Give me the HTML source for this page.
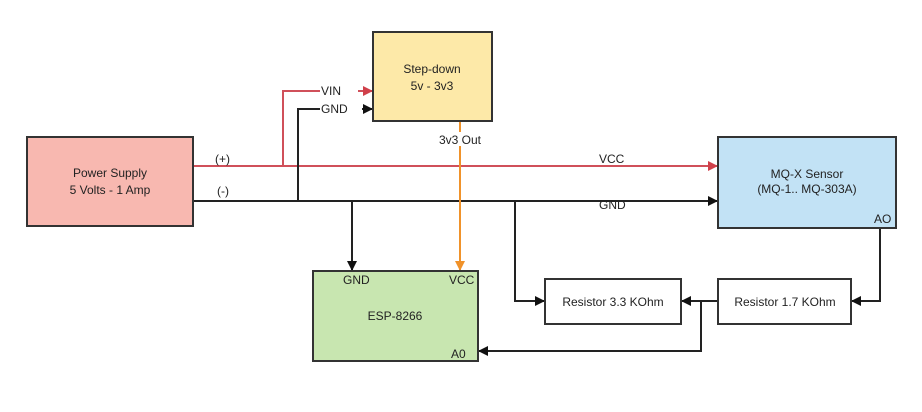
<!DOCTYPE html>
<html><head><style>
body{margin:0;background:#fff;}
svg text{font-family:"Liberation Sans",sans-serif;font-size:12px;fill:#222;}
</style></head><body>
<svg width="922" height="407" xmlns="http://www.w3.org/2000/svg">
<defs>
<marker id="ab" markerWidth="10" markerHeight="10" refX="9" refY="5" orient="auto" markerUnits="userSpaceOnUse"><path d="M0,0 L10,5 L0,10 z" fill="#111"/></marker>
<marker id="ar" markerWidth="10" markerHeight="10" refX="9" refY="5" orient="auto" markerUnits="userSpaceOnUse"><path d="M0,0 L10,5 L0,10 z" fill="#d0404a"/></marker>
<marker id="ao" markerWidth="10" markerHeight="10" refX="9" refY="5" orient="auto" markerUnits="userSpaceOnUse"><path d="M0,0 L10,5 L0,10 z" fill="#f0922a"/></marker>
</defs>
<g fill="none" stroke-width="2">
<path d="M193,166 H717" stroke="#d0505a" marker-end="url(#ar)"/>
<path d="M283,166 V91 H372" stroke="#d0505a" marker-end="url(#ar)"/>
<path d="M193,201 H717" stroke="#222" marker-end="url(#ab)"/>
<path d="M298,201 V109 H372" stroke="#222" marker-end="url(#ab)"/>
<path d="M352,201 V270" stroke="#222" marker-end="url(#ab)"/>
<path d="M515,201 V301 H544" stroke="#222" marker-end="url(#ab)"/>
<path d="M460,121 V270" stroke="#f0922a" marker-end="url(#ao)"/>
<path d="M880,228 V301 H852" stroke="#222" marker-end="url(#ab)"/>
<path d="M718,301 H682" stroke="#222" marker-end="url(#ab)"/>
<path d="M701,301 V351 H479" stroke="#222" marker-end="url(#ab)"/>
</g>
<g stroke="#333" stroke-width="2">
<rect x="27" y="137" width="166" height="89" fill="#f8b8b0"/>
<rect x="373" y="32" width="119" height="89" fill="#fde9a8"/>
<rect x="718" y="137" width="178" height="91" fill="#c2e2f5"/>
<rect x="313" y="271" width="165" height="90" fill="#c8e6b0"/>
<rect x="545" y="279" width="136" height="45" fill="#fff"/>
<rect x="718" y="279" width="133" height="45" fill="#fff"/>
</g>
<rect x="320" y="84" width="38" height="13" fill="#fff"/>
<rect x="320" y="102" width="42" height="13" fill="#fff"/>
<rect x="432" y="132" width="56" height="14" fill="#fff"/>
<text x="110" y="177" text-anchor="middle">Power Supply</text>
<text x="110" y="194" text-anchor="middle">5 Volts - 1 Amp</text>
<text x="432" y="73" text-anchor="middle">Step-down</text>
<text x="432" y="90" text-anchor="middle">5v - 3v3</text>
<text x="807" y="178" text-anchor="middle">MQ-X Sensor</text>
<text x="807" y="193" text-anchor="middle">(MQ-1.. MQ-303A)</text>
<text x="874" y="223">AO</text>
<text x="395" y="320" text-anchor="middle">ESP-8266</text>
<text x="343" y="284">GND</text>
<text x="449" y="284">VCC</text>
<text x="451" y="358">A0</text>
<text x="613" y="306" text-anchor="middle">Resistor 3.3 KOhm</text>
<text x="785" y="306" text-anchor="middle">Resistor 1.7 KOhm</text>
<text x="321" y="95">VIN</text>
<text x="321" y="113">GND</text>
<text x="460" y="144" text-anchor="middle">3v3 Out</text>
<text x="215" y="163">(+)</text>
<text x="217" y="195">(-)</text>
<text x="599" y="163">VCC</text>
<text x="599" y="209">GND</text>
</svg>
</body></html>
